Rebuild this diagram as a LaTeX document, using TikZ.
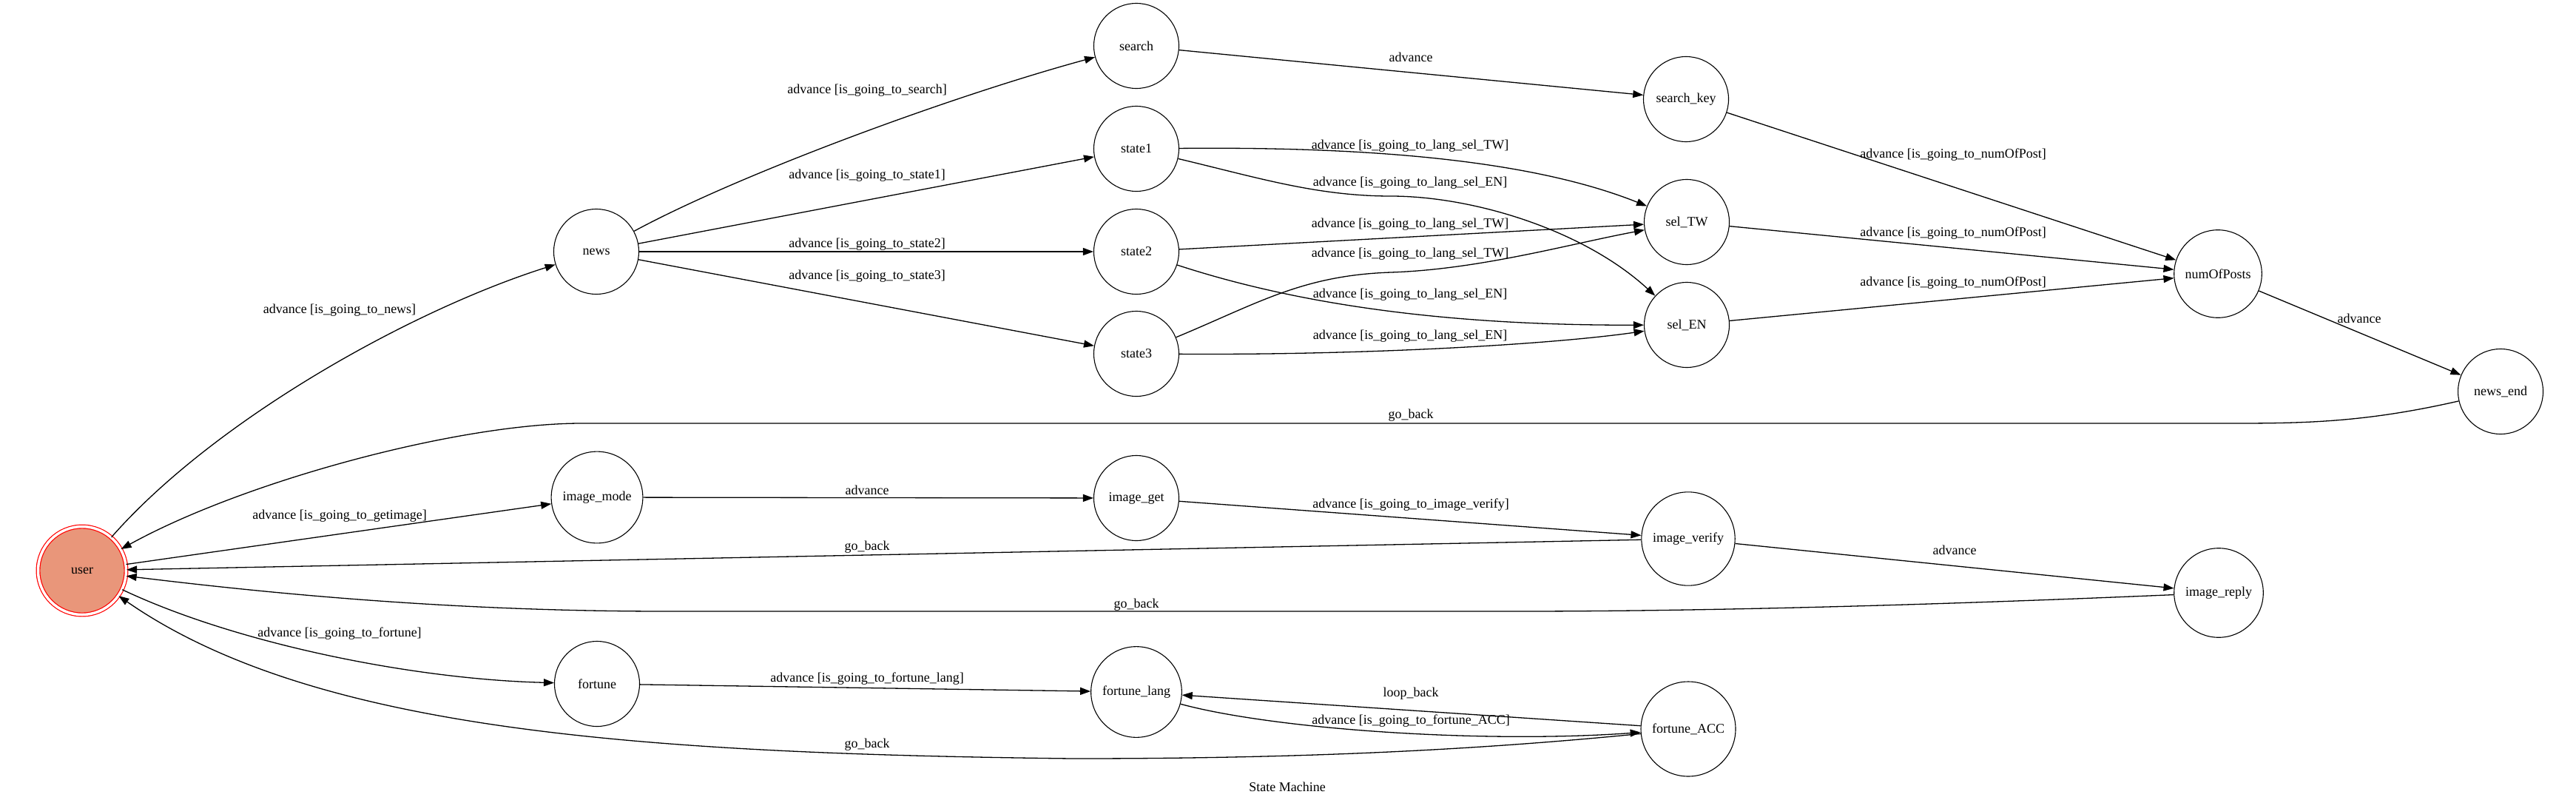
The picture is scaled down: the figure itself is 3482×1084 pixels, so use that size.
\documentclass[tikz,border=0pt]{standalone}
\usepackage{fontspec}
\setmainfont{Liberation Serif}
\usetikzlibrary{arrows.meta}
\definecolor{salmonfill}{RGB}{233,150,122}
\begin{document}
\begin{tikzpicture}[x=1pt,y=-1pt,
  st/.style={circle,draw=black,line width=1.1pt,minimum size=115pt,inner sep=12pt,font=\fontsize{18}{20}\selectfont,fill=white},
  startst/.style={circle,draw=red,line width=1.2pt,double=white,double distance=3.5pt,minimum size=119pt,inner sep=0pt,fill=salmonfill,font=\fontsize{18}{20}\selectfont},
  lbl/.style={inner sep=0pt,font=\fontsize{18}{20}\selectfont},
  edge/.style={line width=1.3pt,-{Triangle[length=14pt,width=10pt]}}
]
\useasboundingbox (0,0) rectangle (3482,1084);

% states
\node[startst] (user) at (111,771) {user};
\node[st] (news) at (806,340) {news};
\node[st] (imagemode) at (807,672) {image\_mode};
\node[st] (fortune) at (807,924) {fortune};
\node[st] (search) at (1536,62) {search};
\node[st] (state1) at (1536,201) {state1};
\node[st] (state2) at (1536,340) {state2};
\node[st] (state3) at (1536,478) {state3};
\node[st] (imageget) at (1536,673) {image\_get};
\node[st] (fortunelang) at (1536,935) {fortune\_lang};
\node[st] (searchkey) at (2279,134) {search\_key};
\node[st] (selTW) at (2280,300) {sel\_TW};
\node[st] (selEN) at (2280,439) {sel\_EN};
\node[st] (imageverify) at (2282,728) {image\_verify};
\node[st] (fortuneACC) at (2282,985) {fortune\_ACC};
\node[st] (numOfPosts) at (2998,370) {numOfPosts};
\node[st] (imagereply) at (2999,801) {image\_reply};
\node[st] (newsend) at (3380,529) {news\_end};

% transitions
\draw[edge] (user) .. controls (290,567) and (556,419) .. (news);
\draw[edge] (news) .. controls (1000,235) and (1286,130) .. (search);
\draw[edge] (news) -- (state1);
\draw[edge] (news) -- (state2);
\draw[edge] (news) -- (state3);
\draw[edge] (search) -- (searchkey);
\draw[edge] (state1) .. controls (1850,198) and (2070,216) .. (selTW);
\draw[edge] (state1) .. controls (1700,240) and (1780,265) .. (1880,265) .. controls (1990,265) and (2140,310) .. (selEN);
\draw[edge] (state2) -- (selTW);
\draw[edge] (state3) .. controls (1700,410) and (1760,372) .. (1880,368) .. controls (2000,364) and (2120,330) .. (selTW);
\draw[edge] (state2) .. controls (1750,410) and (1950,440) .. (selEN);
\draw[edge] (state3) .. controls (1850,480) and (2100,465) .. (selEN);
\draw[edge] (searchkey) -- (numOfPosts);
\draw[edge] (selTW) -- (numOfPosts);
\draw[edge] (selEN) -- (numOfPosts);
\draw[edge] (numOfPosts) -- (newsend);
\draw[edge] (newsend) .. controls (3200,570) and (3120,572) .. (3020,572) -- (786,572) .. controls (620,572) and (330,650) .. (user);
\draw[edge] (user) -- (imagemode);
\draw[edge] (imagemode) -- (imageget);
\draw[edge] (imageget) -- (imageverify);
\draw[edge] (imageverify) -- (user);
\draw[edge] (imageverify) -- (imagereply);
\draw[edge] (imagereply) .. controls (2600,818) and (2300,826) .. (2050,826) -- (900,826) .. controls (600,826) and (350,800) .. (user);
\draw[edge] (user) .. controls (320,870) and (560,918) .. (fortune);
\draw[edge] (fortune) -- (fortunelang);
\draw[edge] (fortunelang) .. controls (1720,985) and (2000,1005) .. (fortuneACC);
\draw[edge] (fortuneACC) -- (fortunelang);
\draw[edge] (fortuneACC) .. controls (1950,1018) and (1700,1025) .. (1450,1025) .. controls (850,1018) and (420,985) .. (user);

% labels
\node[lbl] (l1) at (459,419) {advance [is\_going\_to\_news]};
\node[lbl] (l2) at (459,697) {advance [is\_going\_to\_getimage]};
\node[lbl] (l3) at (459,856) {advance [is\_going\_to\_fortune]};
\node[lbl] (l4) at (1172,122) {advance [is\_going\_to\_search]};
\node[lbl] (l5) at (1172,237) {advance [is\_going\_to\_state1]};
\node[lbl] (l6) at (1172,330) {advance [is\_going\_to\_state2]};
\node[lbl] (l7) at (1172,373) {advance [is\_going\_to\_state3]};
\node[lbl] (l8) at (1172,662) {advance};
\node[lbl] (l9) at (1172,739) {go\_back};
\node[lbl] (l10) at (1172,917) {advance [is\_going\_to\_fortune\_lang]};
\node[lbl] (l11) at (1172,1006) {go\_back};
\node[lbl] (l12) at (1536,817) {go\_back};
\node[lbl] (l13) at (1907,77) {advance};
\node[lbl] (l14) at (1906,197) {advance [is\_going\_to\_lang\_sel\_TW]};
\node[lbl] (l15) at (1906,247) {advance [is\_going\_to\_lang\_sel\_EN]};
\node[lbl] (l16) at (1906,303) {advance [is\_going\_to\_lang\_sel\_TW]};
\node[lbl] (l17) at (1906,343) {advance [is\_going\_to\_lang\_sel\_TW]};
\node[lbl] (l18) at (1906,398) {advance [is\_going\_to\_lang\_sel\_EN]};
\node[lbl] (l19) at (1906,454) {advance [is\_going\_to\_lang\_sel\_EN]};
\node[lbl] (l20) at (1907,561) {go\_back};
\node[lbl] (l21) at (1907,682) {advance [is\_going\_to\_image\_verify]};
\node[lbl] (l22) at (1907,937) {loop\_back};
\node[lbl] (l23) at (1907,974) {advance [is\_going\_to\_fortune\_ACC]};
\node[lbl] (l24) at (2640,209) {advance [is\_going\_to\_numOfPost]};
\node[lbl] (l25) at (2640,315) {advance [is\_going\_to\_numOfPost]};
\node[lbl] (l26) at (2640,382) {advance [is\_going\_to\_numOfPost]};
\node[lbl] (l27) at (2642,743) {advance};
\node[lbl] (l28) at (3189,430) {advance};
\node[lbl] (title) at (1740,1063) {State Machine};
\end{tikzpicture}
\end{document}
